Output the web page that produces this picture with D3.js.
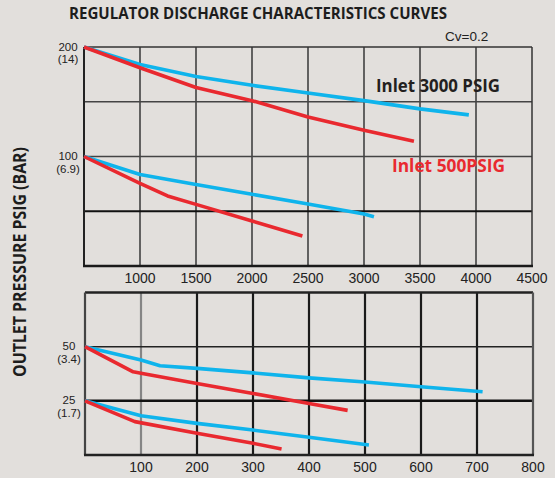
<!DOCTYPE html>
<html>
<head>
<meta charset="utf-8">
<script src="https://cdn.jsdelivr.net/npm/d3@7"></script>
<style>
  body { margin: 0; background: #e2dfdc; }
  text { font-family: "Liberation Sans", Arial, sans-serif; fill: #222; }
  .bold { font-family: "Open Sans", "DejaVu Sans", sans-serif; font-weight: 700; }
</style>
</head>
<body>
<div id="chart"></div>
<script>
// ---- data ----
// upper chart: flow up to 4500 SCFM, settings 200 and 100 psig
const highTicks = [1000, 1500, 2000, 2500, 3000, 3500, 4000, 4500];
const highGrid = [50, 100, 150];
const highYLabels = [["200", "(14)", 200], ["100", "(6.9)", 100]];
const high200_3000 = [[500, 200], [1000, 184], [1500, 173], [2000, 165], [2500, 158], [3000, 151], [3500, 143.5], [3936, 138]];
const high200_500 = [[500, 200], [1000, 181], [1500, 163], [2000, 151], [2500, 136], [3000, 124], [3446, 114]];
const high100_3000 = [[500, 100], [1000, 83.5], [1500, 74.5], [2000, 65.5], [2500, 56.6], [3000, 47.5], [3089, 45]];
const high100_500 = [[500, 100], [1000, 75.5], [1246, 64], [1500, 56.3], [2000, 41.1], [2450, 27.4]];

// lower chart: flow up to 800 SCFM, settings 50 and 25 psig
const lowTicks = [100, 200, 300, 400, 500, 600, 700, 800];
const lowGrid = [25, 50];
const lowYLabels = [["50", "(3.4)", 50], ["25", "(1.7)", 25]];
const low50_3000 = [[0, 50], [100, 43.8], [134, 41.2], [200, 40], [300, 37.9], [400, 35.6], [500, 33.7], [600, 31.5], [710, 29.2]];
const low50_500 = [[0, 50], [86, 38.4], [100, 37.7], [200, 33], [300, 28.4], [400, 23.8], [469, 20.6]];
const low25_3000 = [[0, 25], [100, 18.1], [200, 14.6], [300, 11.5], [400, 8.2], [507, 4.6]];
const low25_500 = [[0, 25], [89, 15.4], [200, 10], [300, 5.4], [351, 2.8]];

const blue = "#0fb4ec";
const red = "#e9292f";

const svg = d3.select("#chart").append("svg")
  .attr("width", 555)
  .attr("height", 478);

svg.append("rect").attr("width", 555).attr("height", 478).attr("fill", "#e2dfdc");

// title
svg.append("text").attr("class", "bold")
  .attr("x", 69).attr("y", 18.5)
  .attr("font-size", 16)
  .attr("textLength", 378).attr("lengthAdjust", "spacingAndGlyphs")
  .style("fill", "#1d1d1d")
  .text("REGULATOR DISCHARGE CHARACTERISTICS CURVES");

svg.append("text")
  .attr("x", 445).attr("y", 40.5)
  .attr("font-size", 13.5)
  .text("Cv=0.2");

// y axis title
svg.append("text").attr("class", "bold")
  .attr("transform", "translate(26,262) rotate(-90)")
  .attr("text-anchor", "middle")
  .attr("font-size", 18)
  .attr("textLength", 230).attr("lengthAdjust", "spacingAndGlyphs")
  .style("fill", "#1d1d1d")
  .text("OUTLET PRESSURE PSIG (BAR)");

function panel(cfg) {
  const x = d3.scaleLinear().domain(cfg.xDomain).range([cfg.left, cfg.right]);
  const y = d3.scaleLinear().domain(cfg.yDomain).range([cfg.bottom, cfg.top]);
  const g = svg.append("g");

  // vertical grid
  g.selectAll(".vgrid").data(cfg.ticks.slice(0, -1)).join("line")
    .attr("x1", d => x(d)).attr("x2", d => x(d))
    .attr("y1", cfg.top).attr("y2", cfg.bottom)
    .attr("stroke", d => cfg.vColor(d))
    .attr("stroke-width", cfg.vWidth);

  // horizontal grid
  g.selectAll(".hgrid").data(cfg.grid).join("line")
    .attr("x1", cfg.left).attr("x2", cfg.right)
    .attr("y1", d => y(d)).attr("y2", d => y(d))
    .attr("stroke", d => cfg.hColor(d))
    .attr("stroke-width", d => cfg.hWidth(d));

  // frame
  const frame = cfg.frame;
  g.append("line").attr("x1", cfg.left).attr("x2", cfg.right).attr("y1", cfg.top).attr("y2", cfg.top)
    .attr("stroke", frame.top[0]).attr("stroke-width", frame.top[1]);
  g.append("line").attr("x1", cfg.right).attr("x2", cfg.right).attr("y1", cfg.top).attr("y2", cfg.bottom)
    .attr("stroke", frame.right[0]).attr("stroke-width", frame.right[1]);
  g.append("line").attr("x1", cfg.left).attr("x2", cfg.left).attr("y1", cfg.top).attr("y2", cfg.bottom)
    .attr("stroke", frame.left[0]).attr("stroke-width", frame.left[1]);
  g.append("line").attr("x1", cfg.left - 1).attr("x2", cfg.right + 1).attr("y1", cfg.bottom).attr("y2", cfg.bottom)
    .attr("stroke", frame.bottom[0]).attr("stroke-width", frame.bottom[1]);

  // x tick labels
  g.selectAll(".xlab").data(cfg.ticks).join("text")
    .attr("x", d => x(d)).attr("y", cfg.bottom + 16.5)
    .attr("text-anchor", "middle")
    .attr("font-size", 14)
    .text(d => d);

  // y labels (psig over bar)
  cfg.yLabels.forEach(([psi, bar, v]) => {
    g.append("text").attr("x", cfg.labelX).attr("y", y(v) + 3.5)
      .attr("text-anchor", "middle").attr("font-size", 11.5).text(psi);
    g.append("text").attr("x", cfg.labelX).attr("y", y(v) + 16.3)
      .attr("text-anchor", "middle").attr("font-size", 11.5).text(bar);
  });

  const line = d3.line().x(d => x(d[0])).y(d => y(d[1]));
  cfg.series.forEach(([data, color]) => {
    g.append("path").datum(data)
      .attr("d", line)
      .attr("fill", "none")
      .attr("stroke", color)
      .attr("stroke-width", 3.6)
      .attr("stroke-linejoin", "round");
  });
  return { x, y };
}

panel({
  xDomain: [500, 4500], yDomain: [0, 200],
  left: 84, right: 532, top: 47, bottom: 266,
  ticks: highTicks, grid: highGrid, yLabels: highYLabels, labelX: 68,
  vColor: () => "#2b2b2b", vWidth: 1.4,
  hColor: d => d === 50 ? "#111" : "#444",
  hWidth: d => d === 50 ? 2.2 : 1.3,
  frame: { top: ["#333", 1.5], right: ["#333", 1.5], left: ["#222", 2], bottom: ["#1a1a1a", 2.5] },
  series: [[high200_3000, blue], [high100_3000, blue], [high200_500, red], [high100_500, red]]
});

panel({
  xDomain: [0, 800], yDomain: [0, 75],
  left: 85, right: 533, top: 292.5, bottom: 455,
  ticks: lowTicks, grid: lowGrid, yLabels: lowYLabels, labelX: 69,
  vColor: d => d === 100 ? "#858585" : "#1a1a1a", vWidth: 2.2,
  hColor: d => d === 25 ? "#111" : "#222",
  hWidth: d => d === 25 ? 2.5 : 1.5,
  frame: { top: ["#222", 2.5], right: ["#555", 2.2], left: ["#444", 2.2], bottom: ["#222", 2.5] },
  series: [[low50_3000, blue], [low25_3000, blue], [low50_500, red], [low25_500, red]]
});

// inline legend labels
svg.append("text").attr("class", "bold")
  .attr("x", 376).attr("y", 92)
  .attr("font-size", 17.5)
  .attr("textLength", 124).attr("lengthAdjust", "spacingAndGlyphs")
  .style("fill", "#231f20")
  .text("Inlet 3000 PSIG");

svg.append("text").attr("class", "bold")
  .attr("x", 392).attr("y", 172)
  .attr("font-size", 17.5)
  .attr("textLength", 113).attr("lengthAdjust", "spacingAndGlyphs")
  .style("fill", red)
  .text("Inlet 500PSIG");
</script>
</body>
</html>
